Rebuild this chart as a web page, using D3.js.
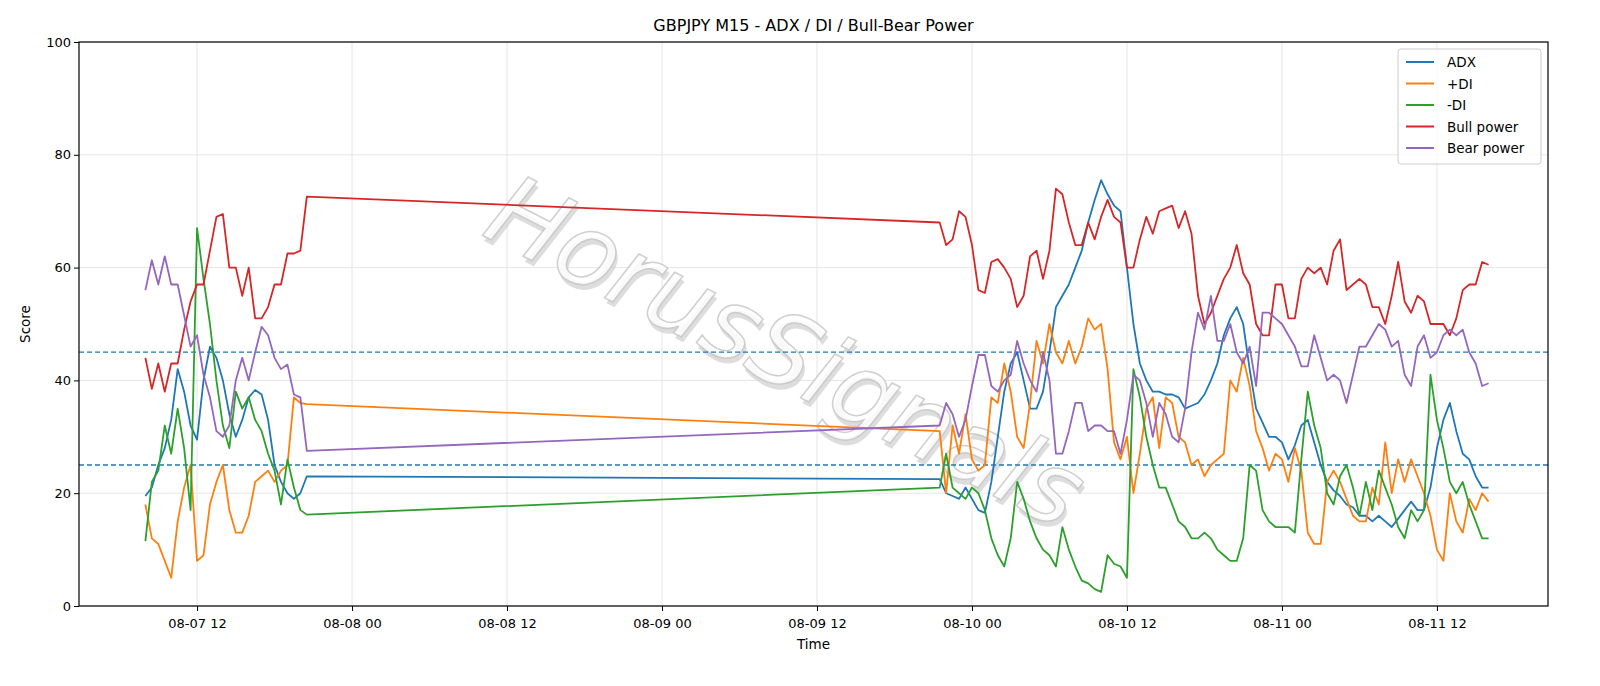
<!DOCTYPE html>
<html><head><meta charset="utf-8">
<script src="https://cdn.jsdelivr.net/npm/d3@7"></script>
<style>html,body{margin:0;padding:0;overflow:hidden;background:#fff;font-family:"DejaVu Sans",sans-serif;width:100%;height:100%}svg{display:block;width:100vw;height:100vh}</style>
</head><body><svg id="c" viewBox="0 0 1600 686" preserveAspectRatio="none"></svg>
<script>
const seg1Start = "2025-08-07T08:00:00Z";
const seg2Start = "2025-08-09T21:30:00Z";
const adx1 = [19.5,21,25,28,33,42,38,32,29.5,40,46,44,40,34,30,33,37,38.3,37.5,33,25,22,20,19,20,23];
const pdi1 = [18,12,11,8,5,15,21,25,8,9,18,22,25,17,13,13,16,22,23,24,22,24,25,37,36,35.8];
const mdi1 = [11.5,22,24,32,27,35,28,17,67,58,50,40,32,28,38,35,37,33,31,27,24,18,26,21,17,16.2];
const bull1 = [44,38.5,43,38,43,43,49,54,57,57,63,69,69.5,60,60,55,60,51,51,53,57,57,62.5,62.5,63,72.6];
const bear1 = [56,61.3,57,62,57,57,51.5,46,48,41,37,31,30,32,40,44,40,45,49.5,48,44,42,42.8,37.5,37,27.5];
const adx2 = [22.5,20,19.5,19,21,19,17,16.5,22,30,38,43,45,40,35,35,38,45,53,55,57,60,63,68,72,75.5,73,71,70,60,50,43,40,38,38,37.5,37.5,37,35,35.5,36,37.5,40,43,48,51,53,50,42,35,32.5,30,30,29,26,28.5,32,33,29,25,22,20.5,19.5,18,17.5,16,16,15,16,15,14,15.5,17,18.5,17,17,21,28,33,36,31,27,26,23,21,21];
const pdi2 = [31,20,32,27,34,26,24,25,37,36,43,38,30,28,36,47,43,50,45,43,47,43,46,51,49,50,42,29,26,30,20,27,35,37,28,37,36,30,29,25,26,23,25,26,27,40,38,44,39,31,28,24,27,26,22,28,24,13,11,11,22,24,22,19,16,15,15,21,18,29,20,26,22,26,23,20,16,10,8,20,15,13,19,17,20,18.5];
const mdi2 = [21,27,21,20,19,21,20,17,12,9,7,12,22,19,15,12,10,9,7,14,10,7,4.5,4,3,2.5,9,7.5,7,5,42,37,30,25,21,21,18,15,14,12,12,13,12,10,9,8,8,12,25,24,17,15,14,14,14,13,26,38,32,28,20,18,23,25,21,16,22,17,24,21,18,14,12,17,15,17,41,33,28,22,20,22,18,15,12,12];
const bull2 = [68,64,65,70,69,64,56,55.5,61,61.5,60,58,53,55,62,63,58,63,74,73,68,64,64,68,65,69,72,69,68,60,60,65,69,66,70,70.5,71,67,70,66,55,50,52,55,58,60,64,59,57,50,48,48,57,57,51,51,58,60,59,60,57,63,65,56,57,58,57,53,53,50,55,61,54,52,55,54,50,50,50,48,51,56,57,57,61,60.5];
const bear2 = [32,36,34,30,33,39,44.5,44.5,39,38,40,41,47,43,40,38,45,40,27,27,31,36,36,31,32,32,31,31,27,33,41,40,36,30,36,34,30,29,35,45,52,49,55,47,47,50,45,43,46,39,52,52,51,50,48,46,42.5,42.5,48,44,40,41,40,36,41,46,46,48,50,49,46,47,41,39,46,48,44,45,48,49,48,49,45,43,39,39.5];
const seriesNames = ["ADX","+DI","-DI","Bull power","Bear power"];
const colors = ["#1f77b4","#ff7f0e","#2ca02c","#d62728","#9467bd"];
const yTicks = [0,20,40,60,80,100];
const xTickLabels = ["08-07 12","08-08 00","08-08 12","08-09 00","08-09 12","08-10 00","08-10 12","08-11 00","08-11 12"];
const thresholds = [45,25];

const step = 30*60*1000;
function times(start,n){const t0=new Date(start).getTime();return d3.range(n).map(i=>new Date(t0+i*step));}
const t1 = times(seg1Start, adx1.length), t2 = times(seg2Start, adx2.length);
const tAll = t1.concat(t2);
const vals = [adx1.concat(adx2), pdi1.concat(pdi2), mdi1.concat(mdi2), bull1.concat(bull2), bear1.concat(bear2)];

const svg = d3.select("#c");
const L=79,R=1548,T=42,B=606;
const base = new Date("2025-08-07T00:00:00Z").getTime();
const x = d3.scaleUtc().domain([new Date(base+2.86*3600e3), new Date(base+116.6*3600e3)]).range([L,R]);
const y = d3.scaleLinear().domain([0,100]).range([B,T]);
const tickDates = xTickLabels.map((s,i)=>new Date(base+(12+12*i)*3600e3));

const g = svg.append("g");
g.selectAll(".gx").data(tickDates).enter().append("line").attr("x1",d=>x(d)).attr("x2",d=>x(d)).attr("y1",T).attr("y2",B).attr("stroke","#e5e5e5").attr("stroke-width",1);
g.selectAll(".gy").data(yTicks).enter().append("line").attr("x1",L).attr("x2",R).attr("y1",d=>y(d)).attr("y2",d=>y(d)).attr("stroke","#e5e5e5").attr("stroke-width",1);

svg.append("text").attr("x",783).attr("y",358).attr("text-anchor","middle").attr("dominant-baseline","middle")
 .attr("transform","rotate(27,783,358) translate(4,4)").attr("font-size",100).attr("font-style","italic")
 .attr("fill","#d0d0d0").attr("opacity",0.7).text("HorusSignals");
svg.append("text").attr("x",783).attr("y",358).attr("text-anchor","middle").attr("dominant-baseline","middle")
 .attr("transform","rotate(27,783,358)").attr("font-size",100).attr("font-style","italic")
 .attr("fill","#ffffff").attr("stroke","#c8c8c8").attr("stroke-width",1.5).attr("opacity",0.85).text("HorusSignals");

thresholds.forEach(v=>svg.append("line").attr("x1",L).attr("x2",R).attr("y1",y(v)).attr("y2",y(v)).attr("stroke","#1f77b4").attr("stroke-width",1.3).attr("stroke-dasharray","5,3"));

const line = d3.line().x((d,i)=>x(tAll[i])).y(d=>y(d));
vals.forEach((v,k)=>svg.append("path").attr("d",line(v)).attr("fill","none").attr("stroke",colors[k]).attr("stroke-width",1.8).attr("stroke-linejoin","round"));

const xa = svg.append("g").attr("transform",`translate(0,${B})`).call(d3.axisBottom(x).tickValues(tickDates).tickFormat((d,i)=>xTickLabels[i]).tickSizeOuter(0).tickSize(5));
const ya = svg.append("g").attr("transform",`translate(${L},0)`).call(d3.axisLeft(y).tickValues(yTicks).tickSizeOuter(0).tickSize(5));
[xa,ya].forEach(a=>{a.selectAll("text").attr("font-size",13).attr("fill","#000").attr("font-family","DejaVu Sans");a.select(".domain").remove();});
xa.selectAll("text").attr("dy","1.1em");
svg.append("rect").attr("x",L).attr("y",T).attr("width",R-L).attr("height",B-T).attr("fill","none").attr("stroke","#000").attr("stroke-width",1.2);

svg.append("text").attr("x",(L+R)/2).attr("y",31).attr("text-anchor","middle").attr("font-size",16).text("GBPJPY M15 - ADX / DI / Bull-Bear Power");
svg.append("text").attr("x",(L+R)/2).attr("y",649).attr("text-anchor","middle").attr("font-size",13.5).text("Time");
svg.append("text").attr("transform",`translate(30,${(T+B)/2}) rotate(-90)`).attr("text-anchor","middle").attr("font-size",13.5).text("Score");

const lg = svg.append("g").attr("transform","translate(1398,49)");
lg.append("rect").attr("width",143).attr("height",115).attr("rx",3).attr("fill","#fff").attr("fill-opacity",0.8).attr("stroke","#ccc");
seriesNames.forEach((n,i)=>{
  const yy=13+i*21.5;
  lg.append("line").attr("x1",8).attr("x2",36).attr("y1",yy).attr("y2",yy).attr("stroke",colors[i]).attr("stroke-width",2);
  lg.append("text").attr("x",49).attr("y",yy+5).attr("font-size",13.5).text(n);
});
</script></body></html>
